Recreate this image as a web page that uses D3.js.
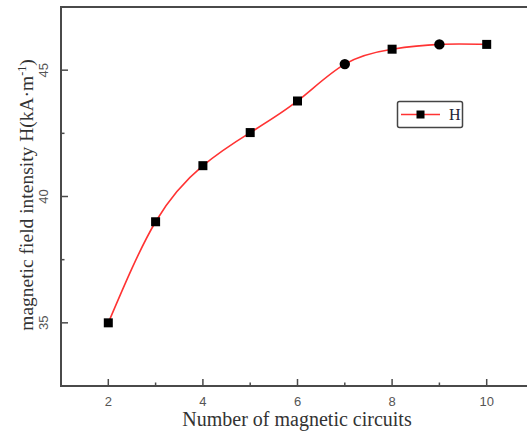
<!DOCTYPE html>
<html><head><meta charset="utf-8">
<script src="https://cdn.jsdelivr.net/npm/d3@7"></script>
<style>html,body{margin:0;padding:0;background:#fff;}svg{display:block;}</style>
</head><body>
<svg id="c" width="527" height="436"></svg>
<script>
const circuits = [2, 3, 4, 5, 6, 7, 8, 9, 10];
const intensity = [35.0, 39.0, 41.22, 42.53, 43.78, 45.24, 45.83, 46.02, 46.02];
const markerShapes = ["square","square","square","square","square","circle","square","circle","square"];
const xTicks = [2, 4, 6, 8, 10];
const yTicks = [35, 40, 45];
const seriesName = "H";

(function(){
const svg = d3.select("#c");
const pL = 61, pT = 7, pR = 534, pB = 386;
const x = d3.scaleLinear().domain([1, 11]).range([pL, pR]);
const y = d3.scaleLinear().domain([32.5, 47.5]).range([pB, pT]);
const axisColor = "#4a4a4a";
const tickFont = "'Liberation Sans Narrow','Arial Narrow',sans-serif";

svg.append("path")
  .attr("d", `M${pR},${pT}H${pL}V${pB}H${pR}`)
  .attr("fill","none").attr("stroke",axisColor).attr("stroke-width",2);

const xMinor = d3.range(1, 11.01, 1).filter(v => !xTicks.includes(v));
svg.append("g").selectAll("line").data(xTicks).join("line")
  .attr("x1", d=>x(d)).attr("x2", d=>x(d)).attr("y1", pB).attr("y2", pB-7)
  .attr("stroke", axisColor).attr("stroke-width", 1.5);
svg.append("g").selectAll("line").data(xMinor).join("line")
  .attr("x1", d=>x(d)).attr("x2", d=>x(d)).attr("y1", pB).attr("y2", pB-3.5)
  .attr("stroke", axisColor).attr("stroke-width", 1.5);
svg.append("g").selectAll("text").data(xTicks).join("text")
  .attr("x", d=>x(d)).attr("y", pB+20)
  .attr("text-anchor","middle").attr("font-family",tickFont).attr("font-size",13)
  .attr("fill","#555").text(d=>d);

const yMinor = [32.5, 37.5, 42.5, 47.5];
svg.append("g").selectAll("line").data(yTicks).join("line")
  .attr("x1", pL).attr("x2", pL+7).attr("y1", d=>y(d)).attr("y2", d=>y(d))
  .attr("stroke", axisColor).attr("stroke-width", 1.5);
svg.append("g").selectAll("line").data(yMinor).join("line")
  .attr("x1", pL).attr("x2", pL+3.5).attr("y1", d=>y(d)).attr("y2", d=>y(d))
  .attr("stroke", axisColor).attr("stroke-width", 1.5);
svg.append("g").selectAll("text").data(yTicks).join("text")
  .attr("transform", d=>`translate(${pL-13},${y(d)}) rotate(-90)`)
  .attr("text-anchor","middle").attr("font-family",tickFont).attr("font-size",13)
  .attr("fill","#555").text(d=>d);

svg.append("text").attr("x", 297).attr("y", 426)
  .attr("text-anchor","middle").attr("font-family","'Liberation Serif','Times New Roman',serif")
  .attr("font-size",20).attr("fill","#333").text("Number of magnetic circuits");
const yt = svg.append("text").attr("transform","translate(33,195) rotate(-90)")
  .attr("text-anchor","middle").attr("font-family","'Liberation Serif','Times New Roman',serif")
  .attr("font-size",19.5).attr("fill","#333");
yt.append("tspan").text("magnetic field intensity H(kA·m");
yt.append("tspan").attr("dy",-7).attr("font-size",12).text("-1");
yt.append("tspan").attr("dy",7).text(")");

const pts = circuits.map((c,i)=>[c,intensity[i]]);
svg.append("path").datum(pts)
  .attr("d", d3.line().x(d=>x(d[0])).y(d=>y(d[1])).curve(d3.curveNatural))
  .attr("fill","none").attr("stroke","#ff3333").attr("stroke-width",1.6);

const g = svg.append("g");
pts.forEach((p,i)=>{
  if (markerShapes[i]==="circle") {
    g.append("circle").attr("cx", x(p[0])).attr("cy", y(p[1])).attr("r", 5.2).attr("fill","#000");
  } else {
    g.append("rect").attr("x", x(p[0])-4.5).attr("y", y(p[1])-4.5)
      .attr("width",9).attr("height",9).attr("fill","#000");
  }
});

const lg = svg.append("g");
lg.append("rect").attr("x",397.5).attr("y",101.5).attr("width",65).attr("height",26).attr("rx",2)
  .attr("fill","#fff").attr("stroke","#444").attr("stroke-width",1.5);
lg.append("line").attr("x1",401).attr("x2",440).attr("y1",114.5).attr("y2",114.5)
  .attr("stroke","#ff3333").attr("stroke-width",1.6);
lg.append("rect").attr("x",416.5).attr("y",110.5).attr("width",8).attr("height",8).attr("fill","#000");
lg.append("text").attr("x",449).attr("y",120).attr("font-family","'Liberation Serif','Times New Roman',serif")
  .attr("font-size",16).attr("fill","#223").text(seriesName);
})();
</script>
</body></html>
